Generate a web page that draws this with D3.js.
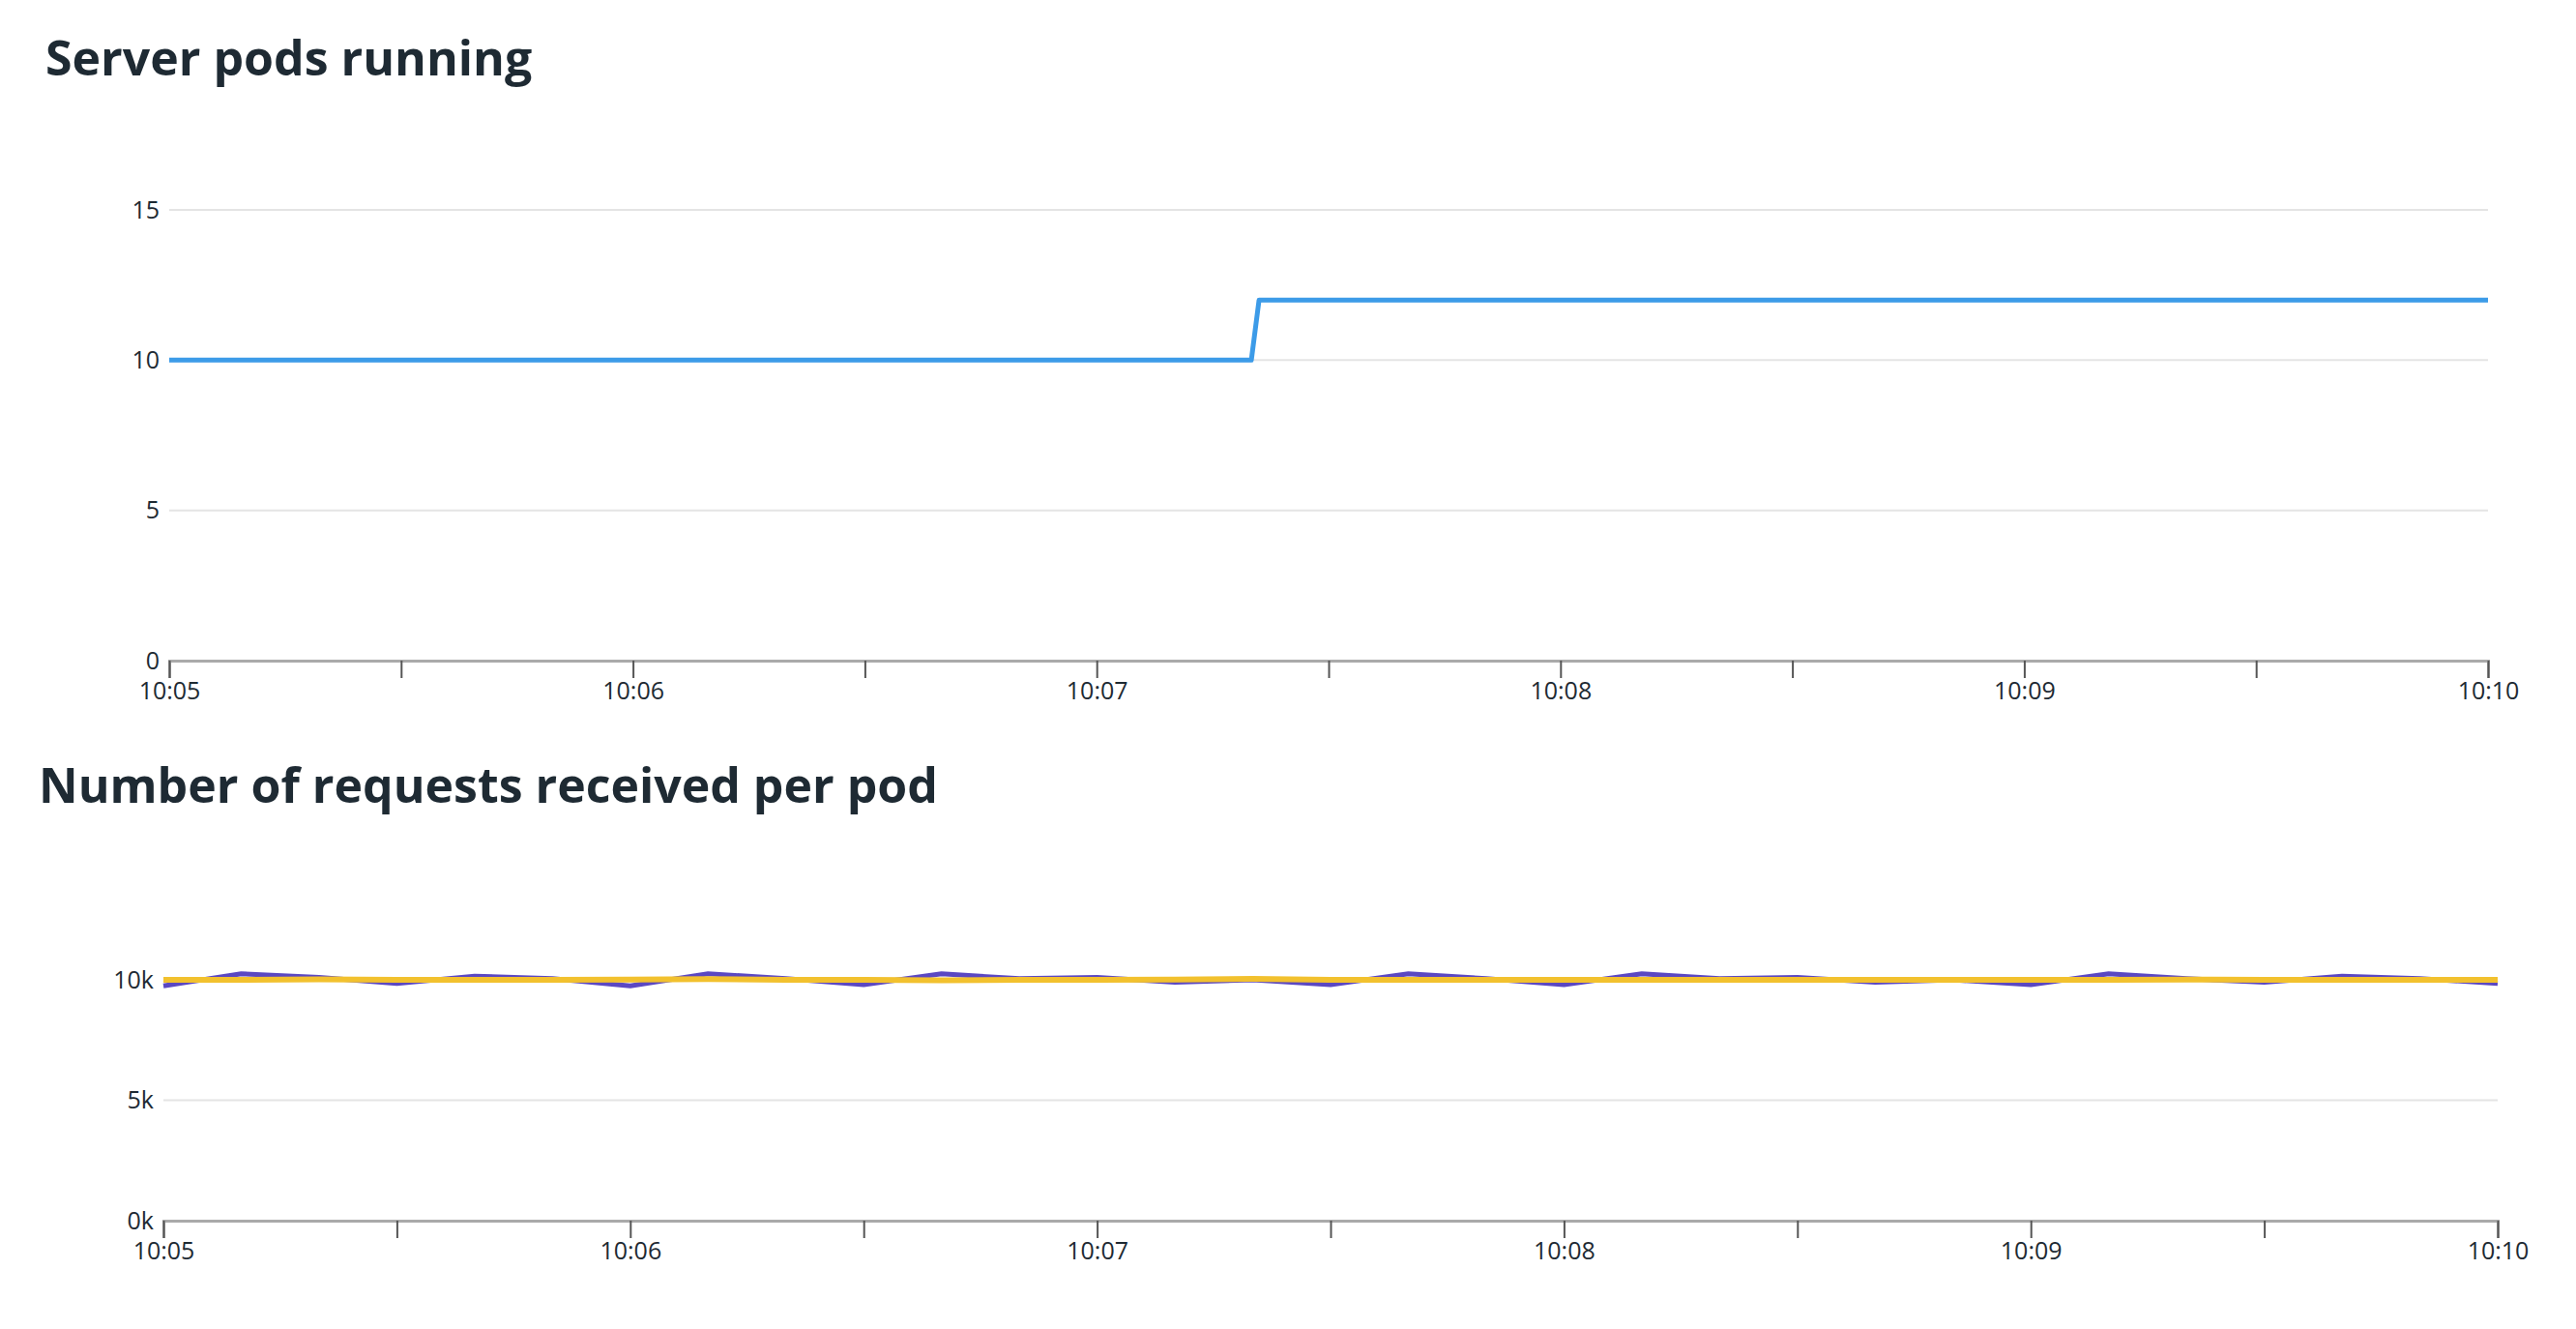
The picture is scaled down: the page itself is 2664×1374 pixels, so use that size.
<!DOCTYPE html>
<html>
<head>
<meta charset="utf-8">
<script src="https://cdn.jsdelivr.net/npm/d3@7"></script>
<style>
  body { margin: 0; background: #fff; }
  text { font-family: "Open Sans", "Noto Sans", sans-serif; }
  .tick text { font-size: 25px; fill: #1e2a33; }
  .title { font-size: 50px; font-weight: 700; fill: #1e2a33; }
</style>
</head>
<body>
<svg id="chart" width="2664" height="1374"></svg>
<script>
// pods running, seconds after 10:05
const podSeconds = [0, 30, 60, 90, 120, 140, 141, 180, 210, 240, 270, 300];
const podValues  = [10, 10, 10, 10, 10, 10, 12, 12, 12, 12, 12, 12];

// requests per pod, sampled every 10 s
const reqSeconds = d3.range(0, 301, 10);
const reqPurple = [9750, 10250, 10100, 9850, 10150, 10050, 9750, 10250, 10050, 9800, 10250,
                   10050, 10100, 9900, 10000, 9800, 10250, 10050, 9800, 10250, 10050, 10100,
                   9900, 10000, 9800, 10250, 10050, 9900, 10150, 10050, 9850];
const reqYellow = [10000, 10000, 10020, 10000, 10000, 10000, 10010, 10030, 10000, 10000, 9980,
                   10000, 10000, 10010, 10040, 10000, 10000, 10000, 10000, 10000, 10000, 10000,
                   10000, 10000, 10000, 10000, 10010, 10000, 10000, 10000, 10000];

const xTicks = d3.range(0, 301, 30);
const xLabels = {0: "10:05", 60: "10:06", 120: "10:07", 180: "10:08", 240: "10:09", 300: "10:10"};

const svg = d3.select("#chart");

function panel(opts) {
  const x = d3.scaleLinear().domain([0, 300]).range([opts.left, opts.right]);
  const y = d3.scaleLinear().domain([0, opts.yMax]).range([opts.bottom, opts.top]);

  svg.append("text").attr("class", "title")
    .attr("x", opts.titleX).attr("y", opts.titleY).text(opts.title);

  // grid
  svg.append("g").selectAll("line").data(opts.yTicks.slice(1)).join("line")
    .attr("x1", opts.left).attr("x2", opts.right)
    .attr("y1", d => y(d)).attr("y2", d => y(d))
    .attr("stroke", "#e4e4e4").attr("stroke-width", 2);

  const yAxis = svg.append("g").attr("transform", `translate(${opts.left},0)`)
    .call(d3.axisLeft(y).tickValues(opts.yTicks).tickSize(0).tickPadding(10).tickFormat(opts.yFormat));
  yAxis.select(".domain").remove();

  const xAxis = svg.append("g").attr("transform", `translate(0,${opts.bottom})`)
    .call(d3.axisBottom(x).tickValues(xTicks).tickSize(18).tickPadding(4)
      .tickFormat(d => xLabels[d] || ""));
  xAxis.select(".domain").attr("stroke", "#aaa").attr("stroke-width", 3);
  xAxis.selectAll(".tick line").attr("stroke", "#555").attr("stroke-width", 2);

  opts.series.forEach(s => {
    svg.append("path")
      .datum(s.values.map((v, i) => [s.xs[i], v]))
      .attr("fill", "none").attr("stroke", s.color).attr("stroke-width", s.width)
      .attr("stroke-linejoin", "round")
      .attr("d", d3.line().x(d => x(d[0])).y(d => y(d[1])));
  });
}

panel({
  title: "Server pods running", titleX: 47, titleY: 78,
  left: 175, right: 2573, top: 217, bottom: 683, yMax: 15,
  yTicks: [0, 5, 10, 15], yFormat: d3.format("d"),
  series: [{xs: podSeconds, values: podValues, color: "#3c9be8", width: 5}]
});

panel({
  title: "Number of requests received per pod", titleX: 40, titleY: 830,
  left: 169, right: 2583, top: 1013, bottom: 1262, yMax: 10000,
  yTicks: [0, 5000, 10000], yFormat: d => (d / 1000) + "k",
  series: [
    {xs: reqSeconds, values: reqPurple, color: "#5b48c2", width: 5},
    {xs: reqSeconds, values: reqYellow, color: "#f2c12e", width: 6}
  ]
});
</script>
</body>
</html>
